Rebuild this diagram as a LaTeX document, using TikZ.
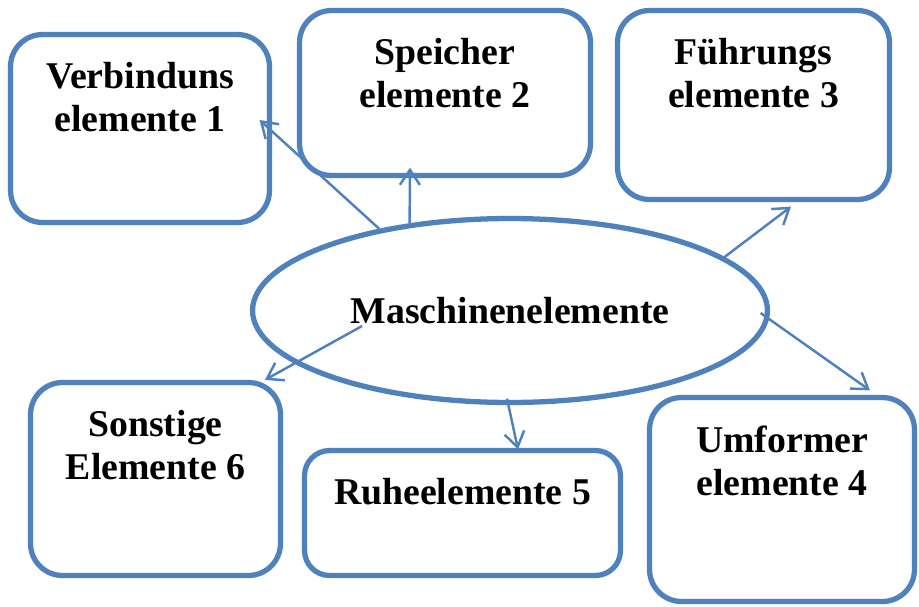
\documentclass[tikz,border=0pt]{standalone}
\usepackage{fontspec}
\setmainfont{Liberation Serif}
\usetikzlibrary{shapes.geometric,positioning,arrows.meta}
\definecolor{frameblue}{HTML}{4F81BD}

\begin{document}
\begin{tikzpicture}[x=0.02cm,y=-0.02cm,
	block/.style={draw=frameblue,line width=3pt,rounded corners=0.64cm,fill=white},
	oval/.style={ellipse,draw=frameblue,line width=3pt,fill=white,minimum width=10.3cm,minimum height=3.68cm},
	txt/.style={align=center,inner sep=0pt,font=\bfseries\fontsize{21.5}{24.5}\selectfont},
	link/.style={draw=frameblue,line width=1.4pt,-{Straight Barb[length=3mm,width=4mm]}}]
	\useasboundingbox (0,0) rectangle (919,606);

	\node[block,minimum width=5.18cm,minimum height=3.76cm] (verb) at (140,128.5) {};
	\node[txt,below=0.61cm of verb.north] (verbtxt) {Verbinduns\\elemente 1};

	\node[block,minimum width=5.82cm,minimum height=3.30cm] (spei) at (445,93) {};
	\node[txt,below=0.61cm of spei.north] (speitxt) {Speicher\\elemente 2};

	\node[block,minimum width=5.44cm,minimum height=3.78cm] (fuehr) at (753.5,105) {};
	\node[txt,below=0.61cm of fuehr.north] (fuehrtxt) {Führungs\\elemente 3};

	\node[block,minimum width=5.30cm,minimum height=4.08cm] (umf) at (782,499.5) {};
	\node[txt,below=0.61cm of umf.north] (umftxt) {Umformer\\elemente 4};

	\node[block,rounded corners=0.5cm,minimum width=6.32cm,minimum height=2.50cm] (ruhe) at (462.5,513) {};
	\node[txt,below=0.61cm of ruhe.north] (ruhetxt) {Ruheelemente 5};

	\node[block,minimum width=5.00cm,minimum height=3.86cm] (sonst) at (155.5,479) {};
	\node[txt,below=0.61cm of sonst.north] (sonsttxt) {Sonstige\\Elemente 6};

	\node[oval,txt] (ell) at (510,310.5) {Maschinenelemente};

	\draw[link] (ell.148) -- ([xshift=-0.25cm,yshift=0.17cm]verb.east);
	\draw[link] (ell.139.6) -- ([xshift=-0.7cm,yshift=0.21cm]spei.south);
	\draw[link] (ell.14) -- ([xshift=0.75cm,yshift=-0.09cm]fuehr.south);
	\draw[link] ([shift={(-0.19cm,-0.05cm)}]ell.east) -- ([xshift=1.76cm,yshift=0.09cm]umf.north);
	\draw[link] ([shift={(-0.06cm,0.13cm)}]ell.south) -- ([xshift=1.11cm,yshift=-0.03cm]ruhe.north);
	\draw[link] ([shift={(-2.96cm,-0.31cm)}]ell.center) -- ([xshift=2.19cm]sonst.north);
\end{tikzpicture}
\end{document}
